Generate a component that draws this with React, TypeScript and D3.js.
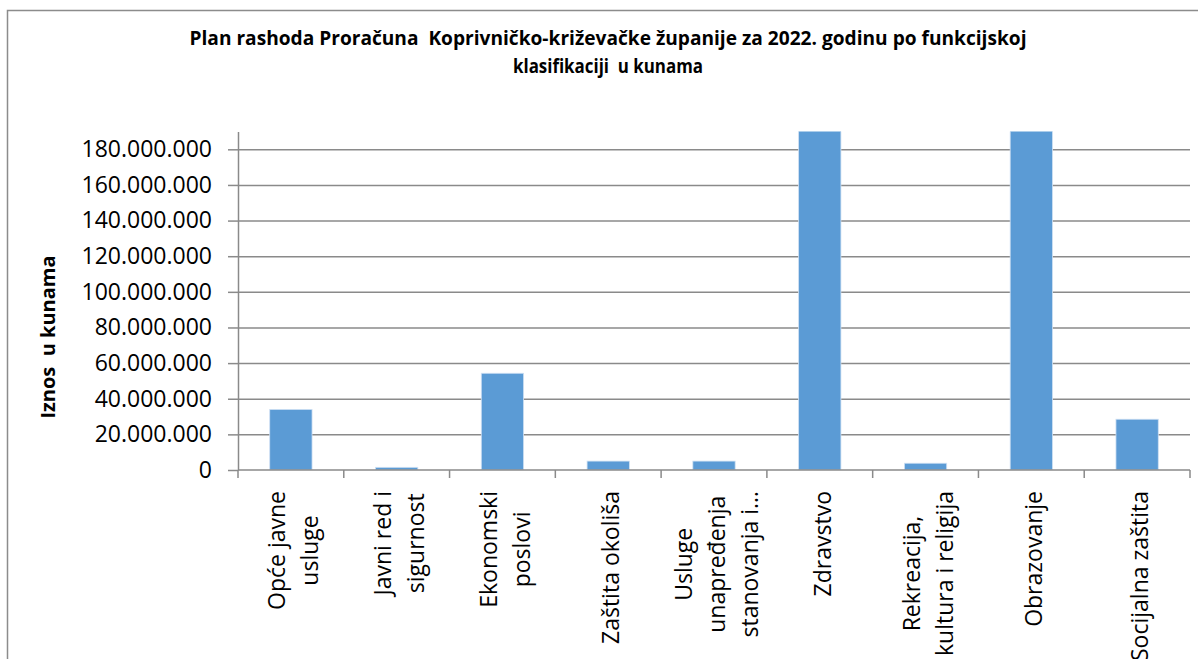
import { useEffect, useRef } from 'react'
import * as d3 from 'd3'

// Kategorije (funkcijska klasifikacija), "\n" = prijelom retka u oznaci
const categories = [
  'Opće javne\nusluge',
  'Javni red i\nsigurnost',
  'Ekonomski\nposlovi',
  'Zaštita okoliša',
  'Usluge\nunapređenja\nstanovanja i…',
  'Zdravstvo',
  'Rekreacija,\nkultura i religija',
  'Obrazovanje',
  'Socijalna zaštita',
]

// Iznosi u kunama (procjena s grafa; Zdravstvo i Obrazovanje izlaze iz osi)
const values = [34000000, 1500000, 54300000, 5000000, 5000000, 200000000, 3800000, 210000000, 28500000]

const yTicks = [0, 20000000, 40000000, 60000000, 80000000, 100000000, 120000000, 140000000, 160000000, 180000000]
const yMax = 190000000

const titleLines = [
  'Plan rashoda Proračuna  Koprivničko-križevačke županije za 2022. godinu po funkcijskoj',
  'klasifikaciji  u kunama',
]
const yTitle = 'Iznos  u kunama'

const W = 1198
const H = 659

const App = () => {
  const ref = useRef<SVGSVGElement>(null)

  useEffect(() => {
    document.body.style.margin = '0'
    const svg = d3.select(ref.current)
    svg.selectAll('*').remove()

    const font = "'Open Sans', sans-serif"
    const left = 238
    const right = 1190
    const top = 131.5
    const bottom = 470

    // Okvir grafikona
    svg
      .append('rect')
      .attr('x', 7.5)
      .attr('y', 10.5)
      .attr('width', 1205)
      .attr('height', 700)
      .attr('fill', '#fff')
      .attr('stroke', '#8c8c8c')
      .attr('stroke-width', 1.5)

    // Naslov
    const titleLen = [837, 190]
    titleLines.forEach((t, i) => {
      svg
        .append('text')
        .attr('x', 608)
        .attr('y', 45 + i * 28)
        .attr('text-anchor', 'middle')
        .attr('font-family', font)
        .attr('font-weight', 'bold')
        .attr('font-size', 20)
        .attr('textLength', titleLen[i])
        .attr('lengthAdjust', 'spacingAndGlyphs')
        .style('white-space', 'pre')
        .text(t)
    })

    const x = d3.scaleBand<string>().domain(categories).range([left, right]).paddingInner(0.6).paddingOuter(0.3)
    const y = d3.scaleLinear().domain([0, yMax]).range([bottom, top])

    const locale = d3.formatLocale({ decimal: ',', thousands: '.', grouping: [3], currency: ['', ''] })
    const fmt = locale.format(',')

    // Mreža
    const grid = svg
      .append('g')
      .attr('transform', `translate(${left},0)`)
      .call(
        d3
          .axisLeft(y)
          .tickValues(yTicks.slice(1))
          .tickSize(-(right - left))
          .tickFormat(() => '')
      )
    grid.select('.domain').remove()
    grid.selectAll('line').attr('stroke', '#8a8a8a').attr('stroke-width', 1.5)

    // Stupci
    svg
      .append('clipPath')
      .attr('id', 'plotclip')
      .append('rect')
      .attr('x', left)
      .attr('y', top)
      .attr('width', right - left)
      .attr('height', bottom - top)

    svg
      .append('g')
      .attr('clip-path', 'url(#plotclip)')
      .selectAll('rect')
      .data(categories)
      .join('rect')
      .attr('x', (d) => x(d)!)
      .attr('width', x.bandwidth())
      .attr('y', (_, i) => y(values[i]))
      .attr('height', (_, i) => bottom - y(values[i]))
      .attr('fill', '#5b9bd5')
      .attr('stroke', '#cfe0f3')
      .attr('stroke-width', 0.8)

    // Os Y
    const yAxis = svg
      .append('g')
      .attr('transform', `translate(${left},0)`)
      .call(d3.axisLeft(y).tickValues(yTicks).tickSize(10).tickSizeOuter(0).tickPadding(16).tickFormat((d) => fmt(d as number)))
    yAxis.select('.domain').attr('stroke', '#8a8a8a').attr('stroke-width', 1.5)
    yAxis.selectAll('line').attr('stroke', '#8a8a8a').attr('stroke-width', 1.5)
    yAxis.selectAll('text').attr('font-family', font).attr('font-size', 23).attr('fill', '#000')

    // Os X
    svg
      .append('line')
      .attr('x1', left)
      .attr('x2', right)
      .attr('y1', bottom)
      .attr('y2', bottom)
      .attr('stroke', '#8a8a8a')
      .attr('stroke-width', 1.5)
    const step = x.step()
    const edges = categories.map((c) => x(c)! - (step - x.bandwidth()) / 2)
    edges.push(right)
    svg
      .append('g')
      .selectAll('line')
      .data(edges)
      .join('line')
      .attr('x1', (d) => d)
      .attr('x2', (d) => d)
      .attr('y1', bottom)
      .attr('y2', bottom + 8)
      .attr('stroke', '#8a8a8a')
      .attr('stroke-width', 1.5)

    // Oznake kategorija (okomito)
    categories.forEach((cat) => {
      const c = x(cat)! + x.bandwidth() / 2
      const lines = cat.split('\n')
      const n = lines.length
      const g = svg.append('g')
      const texts = lines.map((l) =>
        g
          .append('text')
          .attr('text-anchor', 'middle')
          .attr('font-family', font)
          .attr('font-size', 23)
          .attr('fill', '#000')
          .text(l)
      )
      const maxLen = d3.max(texts, (t) => (t.node() as SVGTextElement).getComputedTextLength()) || 0
      const yc = 491 + maxLen / 2
      texts.forEach((t, j) => {
        const bx = c + 11 + (j - (n - 1) / 2) * 33
        t.attr('transform', `translate(${bx},${yc}) rotate(-90)`)
      })
    })

    // Naslov osi Y
    svg
      .append('text')
      .attr('transform', 'translate(55,337) rotate(-90)')
      .attr('text-anchor', 'middle')
      .attr('font-family', font)
      .attr('font-weight', 'bold')
      .attr('font-size', 20)
      .style('white-space', 'pre')
      .text(yTitle)
  }, [])

  return <svg ref={ref} width={W} height={H} style={{ display: 'block', overflow: 'hidden' }} />
}

export default App
